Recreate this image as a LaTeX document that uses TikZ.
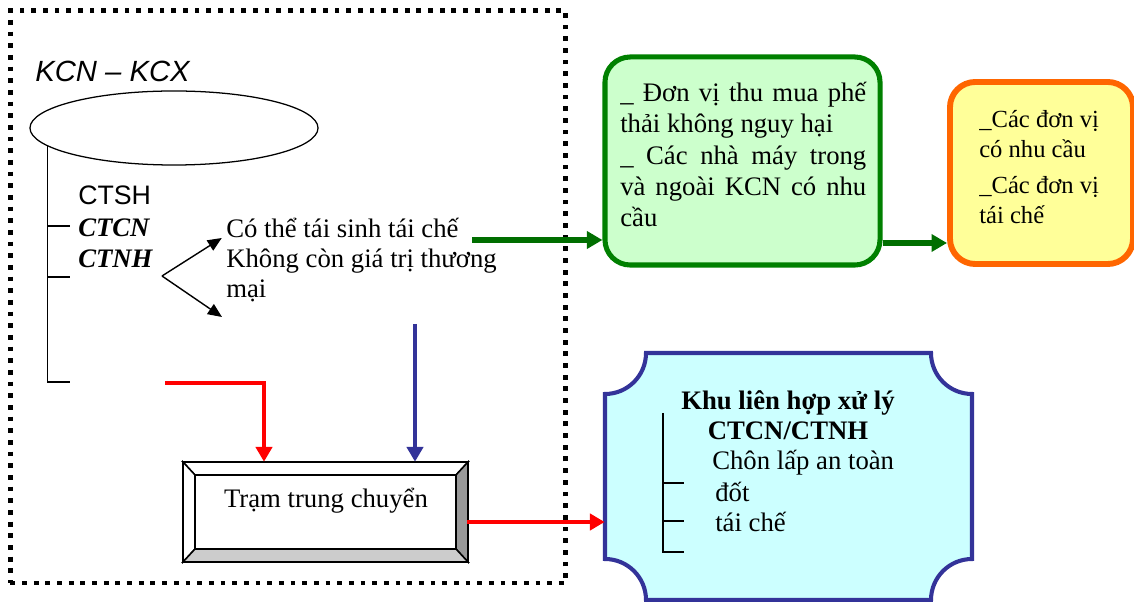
\documentclass[tikz,border=0pt]{standalone}
\usepackage{fontspec}
\setmainfont{Liberation Serif}
\newfontfamily\arialfont{Liberation Sans}
\usetikzlibrary{
    shapes.geometric,
    arrows.meta,
    positioning,
    calc
}
\definecolor{leafgreen}{RGB}{0,128,0}
\definecolor{arrowgreen}{RGB}{0,110,0}
\definecolor{mintfill}{RGB}{204,255,204}
\definecolor{sunfill}{RGB}{255,255,153}
\definecolor{flameorange}{RGB}{255,102,0}
\definecolor{navyline}{RGB}{51,51,153}
\definecolor{icefill}{RGB}{204,255,255}
\newcommand{\bodysize}{\fontsize{19}{22.2}\selectfont}

\begin{document}
\begin{tikzpicture}[x=0.025cm, y=-0.025cm,
    every node/.style={inner sep=0pt, font=\bodysize},
    bracketline/.style={line width=0.9pt},
    forkarrow/.style={line width=1pt, -{Triangle[length=10pt, width=8.5pt]}},
    greenarrow/.style={draw=arrowgreen, line width=3.8pt, -{Triangle[length=11pt, width=12pt]}},
    redarrow/.style={draw=red, line width=2.9pt, -{Triangle[length=10.5pt, width=11.5pt]}},
    bluearrow/.style={draw=navyline, line width=2.9pt, -{Triangle[length=10.5pt, width=11.5pt]}},
    greenbox/.style={draw=leafgreen, line width=3.6pt, fill=mintfill, rounded corners=18pt},
    orangebox/.style={draw=flameorange, line width=4.2pt, fill=sunfill, rounded corners=18pt},
    bevel/.style={draw=black, line width=1.1pt}]
    \useasboundingbox (0,0) rectangle (1134,602);

    % vung KCN - KCX
    \node[draw, line width=3.4pt, dash pattern=on 3.4pt off 4.9pt,
          minimum width=13.875cm, minimum height=14.3125cm] (site) at (288,296.75) {};
    \node[anchor=base west, font=\arialfont\itshape\fontsize{20.8}{24}\selectfont] (park) at (35,82) {KCN – KCX};
    \node[draw, ellipse, line width=0.9pt, minimum width=7.2cm, minimum height=1.85cm] (zone) at (174,128) {};

    \draw[bracketline] (47.5,145) -- (47.5,382) -- (70,382);
    \draw[bracketline] (47.5,226) -- (70,226);
    \draw[bracketline] (47.5,277) -- (70,277);

    \node[anchor=base west, font=\arialfont\fontsize{19}{22}\selectfont] (ctsh) at (78,205) {CTSH};
    \node[anchor=base west, font=\bodysize\bfseries\itshape] (ctcn) at (78,237) {CTCN};
    \node[anchor=base west, font=\bodysize\bfseries\itshape] (ctnh) at (78,268) {CTNH};

    \node[anchor=base west] (reuse) at (226,238) {Có thể tái sinh tái chế};
    \node[anchor=base west] (residue) at (226,268) {Không còn giá trị thương};
    \node[anchor=base west] (residuetail) at (226,298) {mại};

    \coordinate (fork) at (162,276);
    \coordinate (lowtip) at (222,317);
    \draw[forkarrow] (fork) -- ([xshift=-3pt]reuse.base west);
    \draw[forkarrow] (fork) -- (lowtip);

    % tram trung chuyen
    \node[minimum width=7.125cm, minimum height=2.5cm] (relay) at (325.5,512) {};
    \filldraw[bevel, fill=white] (183,462) -- (468,462) -- (456,475) -- (195,475) -- cycle;
    \filldraw[bevel, fill=white] (183,462) -- (195,475) -- (195,549) -- (183,562) -- cycle;
    \filldraw[bevel, fill=gray!80] (468,462) -- (468,562) -- (456,549) -- (456,475) -- cycle;
    \filldraw[bevel, fill=gray!40] (468,562) -- (183,562) -- (195,549) -- (456,549) -- cycle;
    \draw[bevel] (195,475) rectangle (456,549);
    \node[anchor=base] (relaytext) at (326,508) {Trạm trung chuyển};

    % don vi thu mua
    \node[greenbox, minimum width=6.875cm, minimum height=5.2cm] (buyers) at (742.5,161) {};
    \node[anchor=north west, align=left] (buyerstext) at (620,82)
        {\makebox[6.15cm][s]{\_ Đơn vị thu mua phế}\\
         thải không nguy hại\\
         \makebox[6.15cm][s]{\_ Các nhà máy trong}\\
         \makebox[6.15cm][s]{và ngoài KCN có nhu}\\
         cầu};

    \node[orangebox, minimum width=4.575cm, minimum height=4.55cm] (users) at (1041.5,173) {};
    \node[anchor=north west, align=left, font=\fontsize{17.5}{21.5}\selectfont] (userstext) at (979,110)
        {\_Các đơn vị\\ có nhu cầu\\[4pt] \_Các đơn vị\\ tái chế};

    % khu lien hop xu ly
    \node[minimum width=9.175cm, minimum height=6.175cm] (plant) at (788.5,476.5) {};
    \filldraw[draw=navyline, line width=2.9pt, fill=icefill]
        (646,353) -- (931,353) arc[start angle=180, end angle=90, radius=41]
        -- (972,559) arc[start angle=270, end angle=180, radius=41]
        -- (646,600) arc[start angle=0, end angle=-90, radius=41]
        -- (605,394) arc[start angle=90, end angle=0, radius=41] -- cycle;
    \node[anchor=base, font=\bodysize\bfseries] (planttitle) at (788,410) {Khu liên hợp xử lý};
    \node[anchor=base, font=\bodysize\bfseries] (plantcode) at (788,440) {CTCN/CTNH};
    \node[anchor=base west] (landfill) at (712,470) {Chôn lấp an toàn};
    \node[anchor=base west] (burn) at (715,502) {đốt};
    \node[anchor=base west] (recycle) at (715,532) {tái chế};
    \draw[bracketline] (663,413) -- (663,552) -- (684,552);
    \draw[bracketline] (663,483) -- (684,483);
    \draw[bracketline] (663,521) -- (684,521);

    % luong chat thai
    \coordinate (sellout) at (472,240);
    \coordinate (handoff) at (900,243);
    \coordinate (bluein) at (415,324);
    \coordinate (redin) at (165,383);
    \coordinate (redturn) at (264,383);
    \coordinate (redout) at (467,522);
    \draw[greenarrow] (sellout) -- (buyers.west |- sellout);
    \draw[greenarrow] (buyers.east |- handoff) -- (users.west |- handoff);
    \draw[bluearrow] (bluein) -- (bluein |- relay.north);
    \draw[redarrow] (redin) -- (redturn) -- (redturn |- relay.north);
    \draw[redarrow] (redout) -- (plant.west |- redout);
\end{tikzpicture}
\end{document}
